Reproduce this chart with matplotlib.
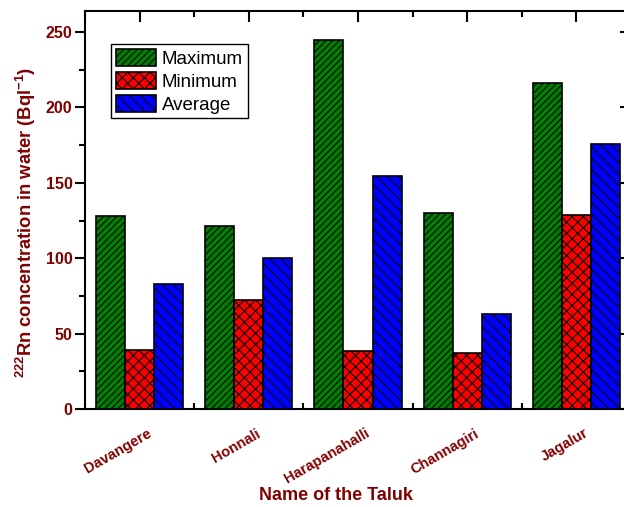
"""Radon concentration in water by taluk: grouped hatched bar chart."""

import matplotlib

matplotlib.use("Agg")
import matplotlib.pyplot as plt
import matplotlib.transforms as mtransforms
import numpy as np
from matplotlib.ticker import FixedLocator, MultipleLocator

taluks = ["Davangere", "Honnali", "Harapanahalli", "Channagiri", "Jagalur"]
maximum = [128, 121.5, 244.5, 129.8, 216]
minimum = [39, 72, 38.5, 37, 128.4]
average = [83, 100, 154.5, 63, 175.5]

DARK_RED = "#800000"

plt.rcParams["font.family"] = ["Liberation Sans", "DejaVu Sans"]
plt.rcParams["mathtext.fontset"] = "custom"
plt.rcParams["mathtext.rm"] = "Liberation Sans:bold"
plt.rcParams["mathtext.bf"] = "Liberation Sans:bold"
plt.rcParams["mathtext.default"] = "rm"
plt.rcParams["hatch.linewidth"] = 0.8

fig = plt.figure(figsize=(6.24, 5.07), dpi=100)
ax = fig.add_axes([85 / 624, 98 / 507, 546 / 624, 398 / 507])

x = np.arange(1, len(taluks) + 1)
w = 0.266
series = [
    (maximum, -w, "#008000", "/////", "Maximum"),
    (minimum, 0.0, "#ff0000", "xxx", "Minimum"),
    (average, w, "#0000ff", "\\\\\\", "Average"),
]
for vals, off, color, hatch, label in series:
    ax.bar(x + off, vals, width=w, color=color, hatch=hatch,
           edgecolor="black", linewidth=1.2, label=label, zorder=3)

ax.set_xlim(0.5, 5.5)
ax.set_ylim(0, 264)

for s in ax.spines.values():
    s.set_linewidth(1.5)

ax.yaxis.set_major_locator(MultipleLocator(50))
ax.yaxis.set_minor_locator(MultipleLocator(25))
ax.tick_params(axis="y", which="both", direction="out", width=1.5, pad=2,
               left=True, right=False, labelsize=11.5, labelcolor=DARK_RED)
ax.tick_params(axis="y", which="major", length=7)
ax.tick_params(axis="y", which="minor", length=4)
for lab in ax.get_yticklabels():
    lab.set_fontweight("bold")

# inward ticks on the right side
ax_r = ax.secondary_yaxis("right")
ax_r.yaxis.set_major_locator(MultipleLocator(50))
ax_r.yaxis.set_minor_locator(MultipleLocator(25))
ax_r.tick_params(which="both", direction="in", width=1.5, labelright=False)
ax_r.tick_params(which="major", length=8)
ax_r.tick_params(which="minor", length=4)
ax_r.spines["right"].set_linewidth(1.5)

ax.xaxis.set_major_locator(FixedLocator(x))
ax.xaxis.set_minor_locator(FixedLocator(np.arange(0.5, 6.0, 1.0)))
ax.tick_params(axis="x", which="both", direction="in", width=1.5,
               top=True, bottom=True)
ax.tick_params(axis="x", which="major", length=8, pad=12.5)
ax.tick_params(axis="x", which="minor", length=4)
ax.set_xticks(x)
ax.set_xticklabels(taluks, rotation=30, ha="right", va="top",
                   fontsize=10.5, fontweight="bold", color=DARK_RED)
shift = mtransforms.ScaledTranslation(14 / 100, 0, fig.dpi_scale_trans)
for lab in ax.get_xticklabels():
    lab.set_transform(lab.get_transform() + shift)

ax.set_xlabel("Name of the Taluk", fontsize=13, fontweight="bold",
              color=DARK_RED)
ax.xaxis.set_label_coords((336 - 85) / 546, (409 - 487) / 398)
ax.set_ylabel(r"$^{222}$Rn concentration in water (Bql$^{-1}$)",
              fontsize=13.2, fontweight="bold", color=DARK_RED)
ax.yaxis.set_label_coords((38 - 85) / 546, (409 - 222) / 398)

leg = ax.legend(loc="upper left", bbox_to_anchor=(26 / 546, 365 / 398),
                borderaxespad=0, fancybox=False, framealpha=1,
                edgecolor="black", fontsize=13.5, handlelength=2.13,
                handleheight=1.07, labelspacing=0.2, borderpad=0.25,
                handletextpad=0.33)
leg.get_frame().set_linewidth(1.0)

fig.savefig("out.png", dpi=100)
